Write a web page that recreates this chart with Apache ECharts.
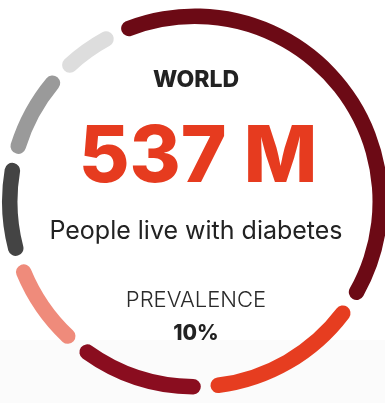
<!DOCTYPE html>
<html>
<head>
<meta charset="utf-8">
<script src="https://cdn.jsdelivr.net/npm/echarts@6/dist/echarts.min.js"></script>
<style>
  html, body { margin: 0; padding: 0; background: #ffffff; }
  #chart { width: 385px; height: 403px; }
</style>
</head>
<body>
<div id="chart"></div>
<script>
// Regional share of people living with diabetes (ring segments, clockwise from top-left)
const regions = [
  'Western Pacific',
  'South-East Asia',
  'Middle East & North Africa',
  'Europe',
  'North America & Caribbean',
  'South & Central America',
  'Africa'
];
const shares = [148, 53.5, 42.8, 32, 32, 30.1, 21.6];
const colors = ['#6c0a15', '#e63d20', '#8a0d1f', '#ef8b7b', '#444444', '#9a9a9a', '#dddddd'];

// Headline texts in the middle of the ring
const headline = {
  place: 'WORLD',
  total: '537 M',
  caption: 'People live with diabetes',
  metric: 'PREVALENCE',
  metricValue: '10%'
};

const FONT = 'Inter, "Open Sans", sans-serif';

const chart = echarts.init(document.getElementById('chart'), null, { renderer: 'canvas' });

chart.setOption({
  animation: false,
  backgroundColor: '#ffffff',
  graphic: [
    { type: 'rect', z: -10, shape: { x: 0, y: 340, width: 385, height: 63 }, style: { fill: '#fbfbfb' } },
    { type: 'text', x: 196, y: 80, style: { text: headline.place, font: '800 23px ' + FONT, fill: '#222222', align: 'center', verticalAlign: 'middle' } },
    { type: 'text', x: 198, y: 159, style: { text: headline.total, font: '800 78px ' + FONT, fill: '#e63b1f', align: 'center', verticalAlign: 'middle' } },
    { type: 'text', x: 196, y: 231, style: { text: headline.caption, font: '400 25px ' + FONT, fill: '#222222', align: 'center', verticalAlign: 'middle' } },
    { type: 'text', x: 196, y: 300, style: { text: headline.metric, font: '300 22px ' + FONT, fill: '#2a2a2a', align: 'center', verticalAlign: 'middle' } },
    { type: 'text', x: 196, y: 334, style: { text: headline.metricValue, font: '800 21px ' + FONT, fill: '#222222', align: 'center', verticalAlign: 'middle' } }
  ],
  series: [{
    type: 'pie',
    silent: true,
    center: [195, 201.5],
    radius: [177.5, 193],
    startAngle: 114.8,
    clockwise: true,
    padAngle: 3,
    label: { show: false },
    labelLine: { show: false },
    itemStyle: { borderRadius: 7.75 },
    data: regions.map((name, i) => ({
      name,
      value: shares[i],
      itemStyle: { color: colors[i] }
    }))
  }]
});
</script>
</body>
</html>
